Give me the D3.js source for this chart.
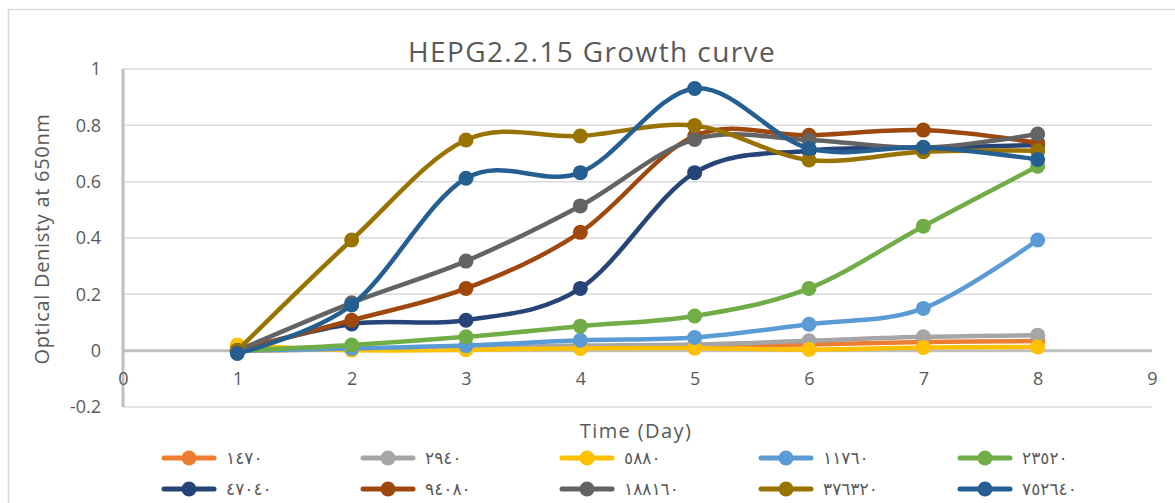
<!DOCTYPE html>
<html>
<head>
    <title>HEPG2.2.15 Growth curve</title>
    <script src="https://cdn.jsdelivr.net/npm/d3@7"></script>
    <style>
        body { margin: 0; background: #fff; }
        text { font-family: "Open Sans", "DejaVu Sans", sans-serif; fill: #595959; }
        .legend text { font-family: "DejaVu Sans", sans-serif; }
    </style>
</head>
<body>
    <svg id="chart" width="1175" height="503"></svg>

    <script type="text/javascript">
        // values (OD at 650nm per day)
        var days = [1, 2, 3, 4, 5, 6, 7, 8];
        var xTicks = [0, 1, 2, 3, 4, 5, 6, 7, 8, 9];
        var yTicks = [-0.2, 0, 0.2, 0.4, 0.6, 0.8, 1];

        var seriesNames = ["١٤٧٠", "٢٩٤٠", "٥٨٨٠", "١١٧٦٠", "٢٣٥٢٠", "٤٧٠٤٠", "٩٤٠٨٠", "١٨٨١٦٠", "٣٧٦٣٢٠", "٧٥٢٦٤٠"];
        var seriesColors = ["#ED7D31", "#A5A5A5", "#FFC000", "#5B9BD5", "#70AD47", "#264478", "#9E480E", "#636363", "#997300", "#255E91"];

        var s1470   = [0, 0.005, 0.008, 0.015, 0.018, 0.022, 0.031, 0.034];
        var s2940   = [0, 0.005, 0.010, 0.018, 0.022, 0.035, 0.049, 0.055];
        var s5880   = [0.02, 0.002, 0.003, 0.008, 0.009, 0.004, 0.011, 0.013];
        var s11760  = [0, 0.008, 0.018, 0.037, 0.047, 0.094, 0.150, 0.393];
        var s23520  = [0, 0.020, 0.049, 0.087, 0.123, 0.221, 0.442, 0.655];
        var s47040  = [0, 0.095, 0.108, 0.221, 0.632, 0.710, 0.720, 0.730];
        var s94080  = [0, 0.108, 0.221, 0.420, 0.762, 0.765, 0.783, 0.738];
        var s188160 = [0, 0.170, 0.318, 0.514, 0.750, 0.748, 0.720, 0.769];
        var s376320 = [0, 0.393, 0.748, 0.762, 0.799, 0.677, 0.706, 0.710];
        var s752640 = [-0.01, 0.162, 0.612, 0.632, 0.931, 0.718, 0.722, 0.679];

        var seriesValues = [s1470, s2940, s5880, s11760, s23520, s47040, s94080, s188160, s376320, s752640];

        var svg = d3.select("#chart");

        // chart frame
        svg.append("rect")
            .attr("x", 8.5).attr("y", 9.5)
            .attr("width", 1200).attr("height", 520)
            .attr("fill", "none")
            .attr("stroke", "#d9d9d9")
            .attr("stroke-width", 1.5);

        var x = d3.scaleLinear().domain([0, 9]).range([123, 1152]);
        var y = d3.scaleLinear().domain([-0.2, 1]).range([407, 69]);

        // gridlines
        svg.append("g")
            .selectAll("line")
            .data(yTicks)
            .enter()
            .append("line")
            .attr("x1", x(0)).attr("x2", x(9))
            .attr("y1", function(d) { return y(d); })
            .attr("y2", function(d) { return y(d); })
            .attr("stroke", "#d9d9d9")
            .attr("stroke-width", 1.5);

        // axis lines at zero
        svg.append("line")
            .attr("x1", x(0)).attr("x2", x(9))
            .attr("y1", y(0)).attr("y2", y(0))
            .attr("stroke", "#bfbfbf").attr("stroke-width", 3);
        svg.append("line")
            .attr("x1", x(0)).attr("x2", x(0))
            .attr("y1", y(1)).attr("y2", y(-0.2))
            .attr("stroke", "#bfbfbf").attr("stroke-width", 3);

        // tick labels (plain hyphen for negatives, like the original)
        var yAxis = d3.axisLeft(y).tickValues(yTicks).tickSize(0).tickPadding(0)
            .tickFormat(function(d) { return String(Math.round(d * 10) / 10); });
        svg.append("g")
            .attr("transform", "translate(101,0)")
            .call(yAxis)
            .call(function(g) { g.select(".domain").remove(); })
            .selectAll("text")
            .style("font-size", "18px")
            .style("font-family", "'Open Sans', sans-serif")
            .attr("fill", "#595959");

        var xAxis = d3.axisBottom(x).tickValues(xTicks).tickSize(0).tickPadding(0);
        svg.append("g")
            .attr("transform", "translate(0,372)")
            .call(xAxis)
            .call(function(g) { g.select(".domain").remove(); })
            .selectAll("text")
            .style("font-size", "18px")
            .style("font-family", "'Open Sans', sans-serif")
            .attr("fill", "#595959");

        // titles
        svg.append("text")
            .attr("x", 592).attr("y", 62)
            .attr("text-anchor", "middle")
            .style("font-size", "28px")
            .style("letter-spacing", "1.4px")
            .text("HEPG2.2.15 Growth curve");

        svg.append("text")
            .attr("transform", "translate(49,239) rotate(-90)")
            .attr("text-anchor", "middle")
            .style("font-size", "20px")
            .style("letter-spacing", "0.7px")
            .text("Optical Denisty at 650nm");

        svg.append("text")
            .attr("x", 636).attr("y", 438)
            .attr("text-anchor", "middle")
            .style("font-size", "20px")
            .style("letter-spacing", "1.4px")
            .text("Time (Day)");

        // series
        var line = d3.line()
            .x(function(d) { return x(d.day); })
            .y(function(d) { return y(d.v); })
            .curve(d3.curveCardinal.tension(0));

        seriesValues.forEach(function(vals, i) {
            var pts = vals.map(function(v, j) { return { day: days[j], v: v }; });
            var g = svg.append("g");
            g.append("path")
                .datum(pts)
                .attr("d", line)
                .attr("fill", "none")
                .attr("stroke", seriesColors[i])
                .attr("stroke-width", 4.5)
                .attr("stroke-linecap", "round");
            g.selectAll("circle")
                .data(pts)
                .enter()
                .append("circle")
                .attr("cx", function(d) { return x(d.day); })
                .attr("cy", function(d) { return y(d.v); })
                .attr("r", 7.5)
                .attr("fill", seriesColors[i]);
        });

        // legend, two rows of five
        var legend = svg.append("g").attr("class", "legend");
        var legendX = d3.scalePoint().domain(d3.range(5)).range([189, 985]);
        var legendY = d3.scalePoint().domain([0, 1]).range([458, 489]);

        seriesNames.forEach(function(name, i) {
            var cx = legendX(i % 5), cy = legendY(Math.floor(i / 5));
            var item = legend.append("g");
            item.append("line")
                .attr("x1", cx - 25).attr("x2", cx + 25)
                .attr("y1", cy).attr("y2", cy)
                .attr("stroke", seriesColors[i])
                .attr("stroke-width", 5)
                .attr("stroke-linecap", "round");
            item.append("circle")
                .attr("cx", cx).attr("cy", cy)
                .attr("r", 7.5)
                .attr("fill", seriesColors[i]);
            item.append("text")
                .attr("x", cx + 37).attr("y", cy + 6)
                .style("font-size", "17px")
                .style("letter-spacing", "1px")
                .text(name);
        });
    </script>
</body>
</html>
